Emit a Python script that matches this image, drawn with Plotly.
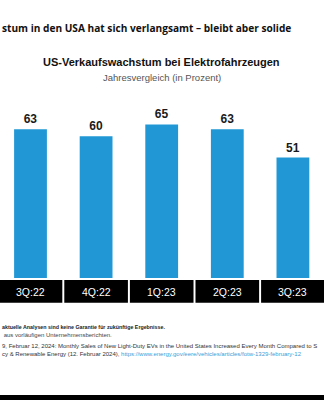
import plotly.graph_objects as go

categories = ["3Q:22", "4Q:22", "1Q:23", "2Q:23", "3Q:23"]
values = [63, 60, 65, 63, 51]

title_text = "stum in den USA hat sich verlangsamt – bleibt aber solide"
chart_title = "US-Verkaufswachstum bei Elektrofahrzeugen"
chart_subtitle = "Jahresvergleich (in Prozent)"
foot_lines = [
    "<b>aktuelle Analysen sind keine Garantie für zukünftige Ergebnisse.</b>",
    " aus vorläufigen Unternehmensberichten.",
    "9, Februar 12, 2024: Monthly Sales of New Light-Duty EVs in the United States Increased Every Month Compared to S",
    "cy & Renewable Energy (12. Februar 2024), <span style='color:#3aa0d8'>https://www.energy.gov/eere/vehicles/articles/fotw-1329-february-12</span>",
]
foot_colors = ["#222", "#444", "#333", "#333"]
foot_sizes = [5.3, 6.0, 6.0, 6.0]

BLUE = "#2198d5"
W, H = 324, 400

def py(pix):
    return (H - pix) / H

fig = go.Figure()
fig.add_trace(go.Bar(
    x=list(range(len(categories))), y=values,
    marker=dict(color=BLUE, line=dict(width=0)),
    width=0.5,
    text=[str(v) for v in values], textposition="outside",
    textfont=dict(family="Liberation Sans", size=12, color="#1a1a1a", weight="bold"),
    cliponaxis=False,
    hoverinfo="skip",
))

shapes = []
annotations = []
for i, c in enumerate(categories):
    shapes.append(dict(type="rect", xref="x", yref="paper",
                       x0=i - 0.5 + 0.015, x1=i + 0.5 - 0.015,
                       y0=py(302.7), y1=py(280), fillcolor="black", line=dict(width=0), layer="above"))
    annotations.append(dict(x=i, y=py(291.5), xref="x", yref="paper", text=c, showarrow=False,
                            font=dict(family="Liberation Sans", size=10.5, color="white"),
                            xanchor="center", yanchor="middle"))

# bottom black strip
shapes.append(dict(type="rect", xref="paper", yref="paper", x0=0, x1=1, y0=0, y1=py(395),
                   fillcolor="black", line=dict(width=0)))

annotations.append(dict(x=0, y=py(28), xref="paper", yref="paper", text="<b>" + title_text + "</b>",
                        showarrow=False, xanchor="left", yanchor="middle",
                        font=dict(family="Open Sans", size=10.15, color="#111")))
annotations.append(dict(x=161 / W, y=py(62), xref="paper", yref="paper", text="<b>" + chart_title + "</b>",
                        showarrow=False, xanchor="center", yanchor="middle",
                        font=dict(family="Liberation Sans", size=11, color="#111")))
annotations.append(dict(x=161.5 / W, y=py(77), xref="paper", yref="paper", text=chart_subtitle,
                        showarrow=False, xanchor="center", yanchor="middle",
                        font=dict(family="Liberation Sans", size=9.5, color="#555")))

foot_y = [327, 335, 346, 354]
for t, yy, col, sz in zip(foot_lines, foot_y, foot_colors, foot_sizes):
    annotations.append(dict(x=0, y=py(yy), xref="paper", yref="paper", text=t,
                            showarrow=False, xanchor="left", yanchor="middle",
                            font=dict(family="Liberation Sans", size=sz, color=col)))

fig.update_layout(
    width=W, height=H,
    margin=dict(l=0, r=0, t=0, b=0),
    paper_bgcolor="white", plot_bgcolor="white",
    showlegend=False,
    bargap=0.5,
    xaxis=dict(range=[-0.465, 4.474], showticklabels=False, showgrid=False, zeroline=False,
               showline=False, ticks="", fixedrange=True),
    yaxis=dict(domain=[py(278), py(89)], range=[0, 80], showticklabels=False, showgrid=False,
               zeroline=False, showline=False, ticks="", fixedrange=True),
    shapes=shapes,
    annotations=annotations,
)

fig.write_html("out.html")
